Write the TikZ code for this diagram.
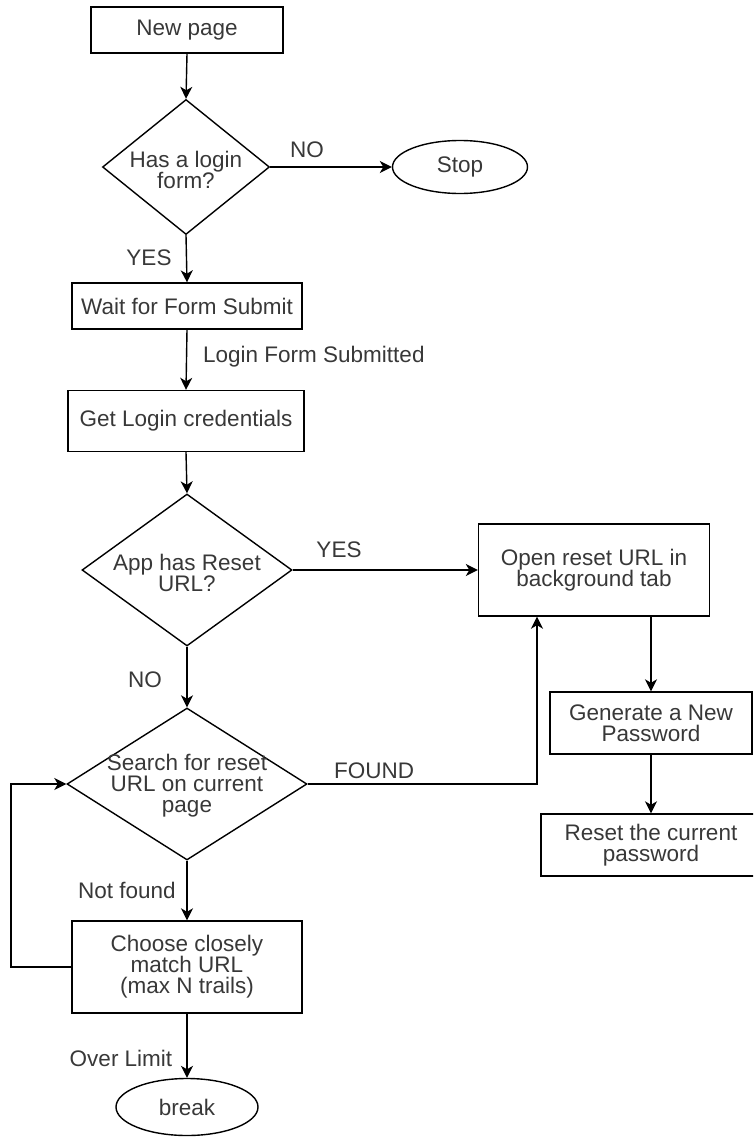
\documentclass[tikz,border=0pt]{standalone}
\usepackage{fontspec}
\setmainfont{Liberation Sans}
\usetikzlibrary{shapes.geometric,arrows.meta}
\definecolor{txtc}{HTML}{383838}
\begin{document}
\begin{tikzpicture}[x=1pt,y=-1pt,
  every node/.style={font=\fontsize{22.5}{21}\selectfont, text=txtc},
  box/.style={draw=black, line width=1.4pt, rectangle, inner sep=0pt, align=center},
  dia/.style={draw=black, line width=1.4pt, diamond, inner sep=0pt},
  ell/.style={draw=black, line width=1.4pt, ellipse, inner sep=0pt, align=center},
  txt/.style={align=center, inner sep=0pt},
  lbl/.style={inner sep=0pt},
  conn/.style={draw=black, line width=1.4pt, -{Stealth[length=12pt,width=12pt,inset=3.5pt]}},
  plain/.style={draw=black, line width=1.4pt}]
\useasboundingbox (0,0) rectangle (753,1137);
\begin{scope}
\clip (0,0) rectangle (753,1137);
% nodes
\node[box, minimum width=192pt, minimum height=46pt] (newpage) at (187,30) {New page};
\node[dia, minimum width=167pt, minimum height=135pt] (d1) at (186,167) {};
\node[txt] (d1t) at (186,170) {Has a login\\form?};
\node[ell, minimum width=135pt, minimum height=53pt] (stop) at (460,167) {Stop};
\node[box, minimum width=230pt, minimum height=46pt] (wait) at (187,306) {Wait for Form Submit};
\node[box, minimum width=236pt, minimum height=61pt] (getlogin) at (186,421) {Get Login credentials};
\node[dia, minimum width=210pt, minimum height=152pt] (d2) at (187,570) {};
\node[txt] (d2t) at (187,573) {App has Reset\\URL?};
\node[box, minimum width=231pt, minimum height=92pt] (openreset) at (594,570) {Open reset URL in\\background tab};
\node[dia, minimum width=240pt, minimum height=152pt] (d3) at (187,784) {};
\node[txt] (d3t) at (187,786) {Search for reset\\URL on current\\page};
\node[box, minimum width=202pt, minimum height=62pt] (generate) at (651,723) {Generate a New\\Password};
\node[box, minimum width=220pt, minimum height=62pt] (resetpw) at (651,845) {Reset the current\\password};
\node[box, minimum width=230pt, minimum height=92pt] (choose) at (187,967) {Choose closely\\match URL\\(max N trails)};
\node[ell, minimum width=142pt, minimum height=57pt] (brk) at (187,1107) {break};
\coordinate (foundc) at (537,784);
\coordinate (loopa) at (11,967);
\coordinate (loopb) at (11,784);
% connectors
\draw[conn] (newpage.south) -- (d1.north);
\draw[conn] (d1.east) -- (stop.west);
\draw[conn] (d1.south) -- (wait.north);
\draw[conn] (wait.south) -- (getlogin.north);
\draw[conn] (getlogin.south) -- (d2.north);
\draw[conn] (d2.east) -- (openreset.west);
\draw[conn] (d2.south) -- (d3.north);
\draw[conn] (d3.east) -- (foundc) -- (foundc |- openreset.south);
\draw[conn] (generate.north |- openreset.south) -- (generate.north);
\draw[conn] (generate.south) -- (generate.south |- resetpw.north);
\draw[conn] (d3.south) -- (choose.north);
\draw[conn] (choose.west) -- (loopa) -- (loopb) -- (d3.west);
\draw[conn] (choose.south) -- (brk.north);
% labels
\node[lbl] (lno1) at (307,150) {NO};
\node[lbl] (lyes1) at (149,258) {YES};
\node[lbl, anchor=west] (lsub) at (203,357) {Login Form Submitted};
\node[lbl] (lyes2) at (339,550) {YES};
\node[lbl] (lno2) at (145,680) {NO};
\node[lbl] (lfound) at (374,771) {FOUND};
\node[lbl] (lnf) at (127,890) {Not found};
\node[lbl] (lover) at (121,1058) {Over Limit};
\end{scope}
\end{tikzpicture}
\end{document}
